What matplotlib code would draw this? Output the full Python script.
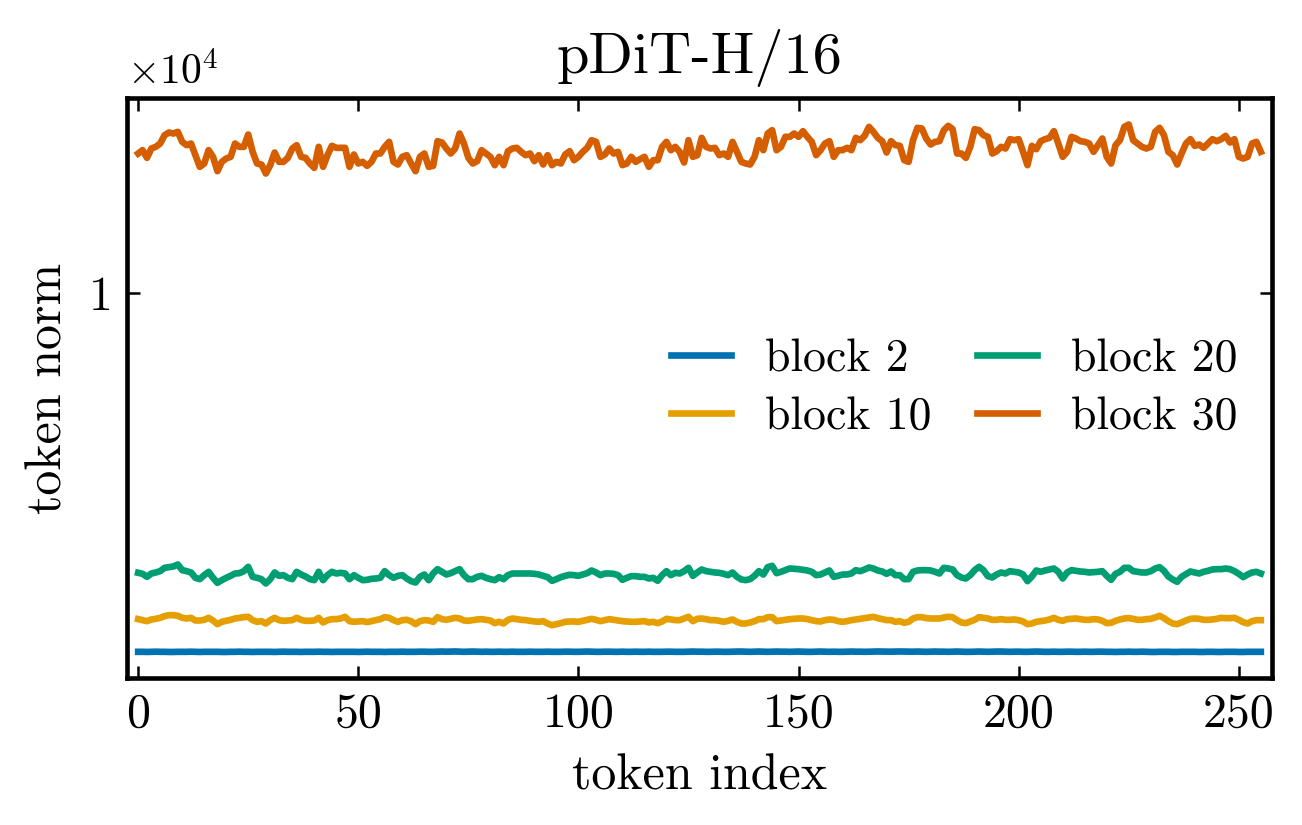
import matplotlib
matplotlib.use("Agg")
import matplotlib.pyplot as plt

plt.rcParams["font.family"] = "serif"
plt.rcParams["font.serif"] = ["cmr10", "DejaVu Serif"]
plt.rcParams["mathtext.fontset"] = "cm"
plt.rcParams["axes.unicode_minus"] = False
plt.rcParams["font.size"] = 11

labels = ["block 2", "block 10", "block 20", "block 30"]
colors = ["#0072B2", "#E69F00", "#009E73", "#D55E00"]

block2 = [
    4620, 4620, 4618, 4620, 4622, 4620, 4620, 4618, 4618, 4620, 4620, 4620, 4622, 4620, 4618, 4620,
    4620, 4620, 4620, 4618, 4618, 4620, 4620, 4622, 4620, 4620, 4618, 4620, 4620, 4620, 4620, 4618,
    4620, 4622, 4620, 4620, 4620, 4618, 4620, 4620, 4620, 4622, 4620, 4620, 4618, 4620, 4620, 4620,
    4620, 4620, 4618, 4620, 4622, 4620, 4620, 4620, 4618, 4620, 4620, 4620, 4622, 4620, 4620, 4620,
    4622, 4622, 4620, 4620, 4622, 4624, 4622, 4624, 4625, 4622, 4620, 4622, 4624, 4622, 4620, 4622,
    4620, 4620, 4622, 4620, 4620, 4622, 4620, 4620, 4620, 4622, 4620, 4620, 4620, 4622, 4620, 4620,
    4620, 4622, 4622, 4620, 4620, 4622, 4624, 4622, 4620, 4620, 4622, 4622, 4620, 4620, 4622, 4620,
    4620, 4622, 4620, 4620, 4622, 4620, 4620, 4620, 4622, 4622, 4620, 4620, 4620, 4622, 4624, 4622,
    4622, 4620, 4620, 4622, 4622, 4620, 4620, 4622, 4624, 4624, 4622, 4620, 4622, 4624, 4622, 4620,
    4622, 4624, 4622, 4622, 4620, 4622, 4624, 4622, 4620, 4620, 4622, 4624, 4622, 4620, 4622, 4620,
    4620, 4622, 4624, 4622, 4622, 4620, 4622, 4624, 4625, 4624, 4622, 4622, 4624, 4625, 4624, 4622,
    4622, 4624, 4622, 4620, 4622, 4624, 4622, 4622, 4620, 4622, 4624, 4622, 4620, 4620, 4622, 4624,
    4622, 4620, 4622, 4624, 4624, 4622, 4620, 4622, 4622, 4620, 4620, 4622, 4624, 4622, 4620, 4620,
    4622, 4620, 4620, 4622, 4622, 4620, 4620, 4622, 4620, 4620, 4622, 4622, 4620, 4620, 4618, 4620,
    4620, 4622, 4620, 4620, 4622, 4620, 4618, 4618, 4620, 4620, 4620, 4618, 4618, 4620, 4620, 4620,
    4620, 4618, 4618, 4620, 4620, 4618, 4618, 4620, 4620, 4620, 4618, 4618, 4620, 4620, 4620, 4620,
]

block10 = [
    5110, 5095, 5080, 5105, 5115, 5130, 5155, 5170, 5170, 5160, 5130, 5120, 5130, 5090, 5090, 5100,
    5130, 5090, 5035, 5070, 5085, 5100, 5120, 5130, 5140, 5145, 5095, 5070, 5080, 5045, 5095, 5130,
    5095, 5085, 5090, 5095, 5130, 5100, 5085, 5085, 5090, 5130, 5060, 5095, 5110, 5110, 5120, 5145,
    5080, 5070, 5075, 5080, 5065, 5080, 5095, 5110, 5140, 5130, 5095, 5070, 5095, 5100, 5080, 5035,
    5080, 5095, 5090, 5070, 5140, 5110, 5100, 5115, 5130, 5120, 5090, 5085, 5095, 5105, 5110, 5100,
    5090, 5050, 5070, 5045, 5100, 5120, 5110, 5100, 5095, 5085, 5075, 5070, 5080, 5045, 5020, 5035,
    5050, 5070, 5075, 5075, 5070, 5085, 5100, 5115, 5100, 5080, 5095, 5110, 5100, 5090, 5080, 5075,
    5070, 5070, 5075, 5080, 5060, 5070, 5050, 5075, 5115, 5105, 5095, 5095, 5120, 5145, 5080, 5115,
    5120, 5110, 5095, 5095, 5085, 5070, 5085, 5105, 5070, 5045, 5045, 5060, 5080, 5110, 5110, 5140,
    5140, 5080, 5090, 5100, 5110, 5115, 5120, 5120, 5110, 5095, 5080, 5075, 5095, 5105, 5100, 5080,
    5070, 5080, 5095, 5105, 5115, 5125, 5135, 5145, 5125, 5110, 5095, 5095, 5070, 5080, 5055, 5070,
    5120, 5140, 5140, 5125, 5120, 5120, 5120, 5135, 5145, 5140, 5095, 5060, 5050, 5075, 5100, 5140,
    5130, 5120, 5100, 5100, 5110, 5100, 5100, 5105, 5095, 5075, 5035, 5045, 5070, 5080, 5090, 5105,
    5130, 5100, 5085, 5110, 5115, 5120, 5110, 5100, 5100, 5110, 5105, 5085, 5050, 5055, 5085, 5105,
    5120, 5125, 5115, 5100, 5100, 5110, 5115, 5135, 5160, 5125, 5080, 5045, 5035, 5060, 5090, 5115,
    5120, 5115, 5100, 5100, 5105, 5115, 5130, 5125, 5125, 5130, 5100, 5065, 5045, 5080, 5095, 5095,
]

block20 = [
    5805, 5790, 5745, 5795, 5810, 5830, 5880, 5890, 5900, 5930, 5845, 5830, 5810, 5730, 5710, 5770,
    5820, 5730, 5655, 5695, 5730, 5760, 5795, 5800, 5830, 5895, 5745, 5730, 5710, 5645, 5710, 5810,
    5760, 5770, 5730, 5710, 5820, 5780, 5750, 5710, 5695, 5820, 5695, 5770, 5820, 5795, 5805, 5795,
    5710, 5770, 5730, 5695, 5700, 5715, 5720, 5730, 5830, 5770, 5730, 5760, 5770, 5720, 5680, 5660,
    5745, 5780, 5695, 5795, 5860, 5820, 5780, 5800, 5830, 5860, 5770, 5710, 5710, 5745, 5760, 5730,
    5710, 5695, 5740, 5710, 5770, 5795, 5795, 5795, 5795, 5795, 5790, 5780, 5760, 5740, 5685, 5710,
    5740, 5760, 5775, 5770, 5760, 5780, 5800, 5840, 5810, 5770, 5795, 5795, 5790, 5770, 5700, 5730,
    5755, 5755, 5745, 5745, 5720, 5730, 5685, 5770, 5830, 5770, 5805, 5795, 5830, 5880, 5760, 5810,
    5855, 5830, 5820, 5810, 5805, 5790, 5770, 5810, 5745, 5705, 5695, 5710, 5760, 5830, 5780, 5890,
    5910, 5800, 5820, 5845, 5870, 5865, 5860, 5850, 5840, 5820, 5770, 5780, 5810, 5840, 5745, 5760,
    5780, 5780, 5795, 5845, 5830, 5855, 5885, 5870, 5840, 5825, 5790, 5825, 5770, 5770, 5710, 5710,
    5820, 5840, 5845, 5845, 5840, 5820, 5795, 5880, 5870, 5855, 5770, 5735, 5720, 5770, 5845, 5895,
    5845, 5755, 5735, 5780, 5810, 5795, 5830, 5820, 5810, 5780, 5680, 5750, 5840, 5820, 5840, 5855,
    5870, 5820, 5720, 5810, 5845, 5835, 5825, 5820, 5810, 5815, 5820, 5830, 5760, 5700, 5790, 5820,
    5880, 5880, 5830, 5820, 5810, 5810, 5830, 5870, 5890, 5835, 5750, 5705, 5670, 5745, 5785, 5825,
    5810, 5795, 5820, 5835, 5855, 5860, 5860, 5870, 5860, 5830, 5790, 5740, 5780, 5810, 5820, 5795,
]

block30 = [
    12095, 12145, 12030, 12170, 12195, 12245, 12370, 12410, 12395, 12420, 12270, 12220, 12245, 12070, 11895, 11945,
    12145, 12045, 11830, 11970, 12020, 12045, 12245, 12195, 12195, 12380, 12120, 11945, 11930, 11795, 11920, 12110,
    11970, 11970, 12030, 12170, 12220, 12045, 12030, 11945, 11880, 12195, 11895, 12070, 12210, 12180, 12180, 12180,
    11895, 12080, 11945, 11970, 11910, 11970, 12095, 12095, 12195, 12270, 11970, 11930, 12045, 12070, 11945, 11830,
    12045, 12095, 11895, 11910, 12280, 12260, 12170, 12095, 12170, 12395, 12245, 12030, 11945, 11980, 12145, 12095,
    12045, 11920, 12045, 11920, 12130, 12170, 12180, 12120, 12070, 12095, 11980, 12070, 11930, 12070, 11920, 11970,
    11945, 12080, 12130, 11995, 12045, 12120, 12180, 12295, 12270, 12045, 12080, 12170, 12095, 12120, 11920, 11945,
    12045, 11970, 12010, 12045, 11895, 11995, 11995, 12195, 12270, 12145, 12195, 12120, 11960, 12295, 12045, 12070,
    12330, 12195, 12170, 12180, 12070, 12095, 12045, 12270, 12120, 11970, 11945, 11930, 12045, 12295, 12145, 12395,
    12445, 12145, 12195, 12345, 12345, 12395, 12345, 12430, 12345, 12270, 12070, 12145, 12245, 12280, 12045, 12145,
    12145, 12180, 12145, 12330, 12295, 12360, 12495, 12420, 12330, 12280, 12110, 12280, 12220, 12210, 11995, 11970,
    12295, 12480, 12470, 12320, 12230, 12270, 12280, 12445, 12510, 12460, 12095, 12095, 12030, 12195, 12460, 12445,
    12370, 12345, 12095, 12130, 12195, 12170, 12310, 12295, 12310, 12120, 11920, 12210, 12160, 12280, 12310, 12330,
    12430, 12245, 12045, 12120, 12345, 12320, 12280, 12270, 12245, 12120, 12220, 12320, 12045, 11945, 12220, 12295,
    12495, 12530, 12295, 12245, 12195, 12170, 12195, 12420, 12480, 12370, 12120, 12070, 11930, 12095, 12245, 12310,
    12210, 12230, 12180, 12245, 12310, 12280, 12310, 12360, 12260, 12310, 12045, 12020, 12045, 12245, 12270, 12120,
]

series = [block2, block10, block20, block30]
token_index = list(range(len(block30)))

fig, ax = plt.subplots(figsize=(4.34, 2.75), dpi=300)
fig.subplots_adjust(left=0.0975, right=0.977, bottom=0.178, top=0.881)

for vals, lab, col in zip(series, labels, colors):
    ax.plot(token_index, vals, color=col, lw=1.6, label=lab)

ax.set_xlim(-2.55, 257.55)
ax.set_ylim(4225, 12925)
ax.set_xticks([0, 50, 100, 150, 200, 250])
ax.set_yticks([10000])
ax.set_yticklabels(["1"])
ax.minorticks_off()
ax.text(0, 1.01, r"$\times10^{4}$", transform=ax.transAxes, ha="left", va="bottom",
        fontsize=10)

ax.tick_params(direction="in", top=True, right=True, length=3, width=0.6,
               labelsize=11.5)
for sp in ax.spines.values():
    sp.set_linewidth(1.1)

ax.set_xlabel("token index", fontsize=12)
ax.set_ylabel("token norm", fontsize=12)
ax.set_title("pDiT-H/16", fontsize=14)

ax.legend(loc="center right", ncol=2, frameon=False, fontsize=11,
          handlelength=1.3, columnspacing=1.0, handletextpad=0.75,
          labelspacing=0.35, borderaxespad=0.35)

fig.savefig("out.png", dpi=300)
